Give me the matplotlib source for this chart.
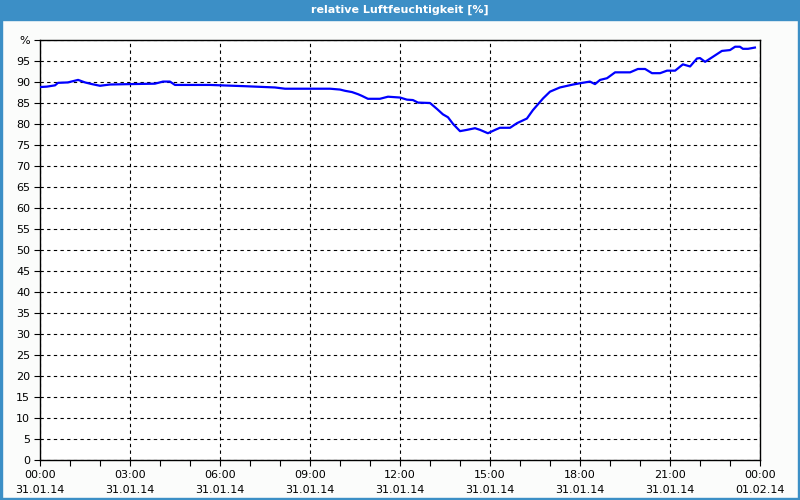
"""Relative humidity over one day, 31.01.14."""

import matplotlib
matplotlib.use("Agg")
import matplotlib.pyplot as plt
from matplotlib.patches import Rectangle

# time in hours since 31.01.14 00:00
hours = [0.0, 0.23, 0.5, 0.6, 0.93, 1.27, 1.5, 1.73, 2.0, 2.33, 3.0, 3.83,
         4.1, 4.33, 4.5, 5.67, 6.83, 7.83, 8.17, 9.67, 10.0, 10.17, 10.4,
         10.6, 10.73, 10.93, 11.33, 11.6, 12.0, 12.23, 12.43, 12.6, 13.0,
         13.23, 13.43, 13.6, 13.77, 14.0, 14.23, 14.5, 14.67, 14.93, 15.17,
         15.33, 15.67, 15.9, 16.23, 16.43, 16.77, 17.0, 17.33, 17.77, 18.0,
         18.33, 18.5, 18.67, 18.9, 19.17, 19.67, 19.93, 20.17, 20.4, 20.67,
         20.9, 21.17, 21.43, 21.67, 21.9, 22.0, 22.17, 22.43, 22.73, 23.0,
         23.17, 23.33, 23.43, 23.6, 23.83]
humidity = [88.8, 88.9, 89.2, 89.8, 89.9, 90.5, 89.9, 89.5, 89.1, 89.4, 89.5,
            89.6, 90.1, 90.1, 89.3, 89.3, 89.0, 88.7, 88.4, 88.4, 88.2, 87.9,
            87.6, 87.1, 86.7, 86.0, 86.0, 86.5, 86.3, 85.8, 85.7, 85.1, 85.0,
            83.6, 82.3, 81.6, 80.0, 78.3, 78.6, 79.0, 78.6, 77.8, 78.6, 79.1,
            79.1, 80.2, 81.3, 83.3, 86.1, 87.7, 88.7, 89.4, 89.7, 90.1, 89.5,
            90.5, 90.9, 92.3, 92.3, 93.1, 93.1, 92.1, 92.1, 92.7, 92.7, 94.2,
            93.7, 95.6, 95.7, 94.8, 96.0, 97.4, 97.6, 98.4, 98.4, 97.9, 97.9,
            98.2]

tick_hours = [0, 3, 6, 9, 12, 15, 18, 21, 24]
tick_times = ["00:00", "03:00", "06:00", "09:00", "12:00", "15:00", "18:00",
              "21:00", "00:00"]
tick_dates = ["31.01.14"] * 8 + ["01.02.14"]
y_ticks = list(range(0, 101, 5))
y_labels = [str(v) for v in range(0, 100, 5)] + ["%"]

title = "relative Luftfeuchtigkeit [%]"
frame_blue = "#3c8fc6"

fig = plt.figure(figsize=(8, 5), dpi=100, facecolor="#fbfcfb")

# title bar and thin blue frame
fig.patches.append(Rectangle((0, 480 / 500), 1, 20 / 500, transform=fig.transFigure,
                             color=frame_blue, zorder=0))
for rect in [(0, 0, 2 / 800, 1), (798 / 800, 0, 2 / 800, 1), (0, 0, 1, 2 / 500)]:
    fig.patches.append(Rectangle(rect[:2], rect[2], rect[3], transform=fig.transFigure,
                                 color=frame_blue, zorder=0))
fig.text(0.5, 490 / 500, title, color="white", weight="bold", fontsize=8,
         ha="center", va="center")

ax = fig.add_axes([40 / 800, 40 / 500, 720 / 800, 420 / 500])
ax.set_facecolor("white")
ax.plot(hours, humidity, color="#0000ff", linewidth=1.6, zorder=3)

ax.set_xlim(0, 24)
ax.set_ylim(0, 100)
ax.set_xticks(tick_hours)
ax.set_xticklabels([f"{t}\n{d}" for t, d in zip(tick_times, tick_dates)],
                   linespacing=1.6)
ax.set_xticks(range(25), minor=True)
ax.set_yticks(y_ticks)
ax.set_yticklabels(y_labels)
ax.tick_params(axis="both", which="both", direction="out", length=4, width=0.8,
               labelsize=8, colors="black", pad=3)

ax.xaxis.grid(True, which="major", color="black", linestyle=(0, (3, 3)), linewidth=0.8)
ax.yaxis.grid(True, color="black", linestyle=(0, (3, 3)), linewidth=0.8)
for spine in ax.spines.values():
    spine.set_linewidth(1)
    spine.set_color("black")

fig.savefig("out.png", dpi=100, facecolor=fig.get_facecolor())
